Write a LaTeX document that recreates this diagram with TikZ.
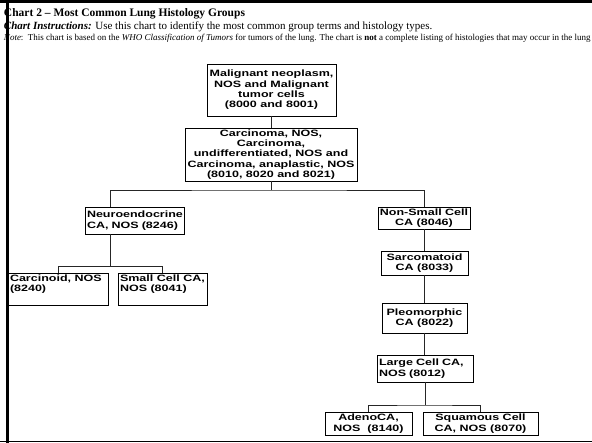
\documentclass[tikz,border=0pt]{standalone}
\usepackage{fontspec}
\setmainfont{Liberation Serif}
\newfontfamily\boxfont[FakeStretch=1.36]{Liberation Sans}
\begin{document}
\begin{tikzpicture}[x=1pt,y=-1pt,
  box/.style={draw=black, line width=0.9pt, inner sep=0pt, outer sep=0pt,
    font=\boxfont\bfseries\fontsize{9.2}{10.4}\selectfont, align=center},
  lbox/.style={box, align=left, inner xsep=2pt, inner ysep=0pt},
  conn/.style={draw=black!85, line width=0.9pt},
  hdr/.style={anchor=base west, inner sep=0pt, outer sep=0pt}]
\useasboundingbox (0,0) rectangle (592,443);
\fill[white] (0,0) rectangle (592,443);

% header
\node[hdr, font=\bfseries\fontsize{11.5}{13}\selectfont] (title) at (4,16.5)
  {Chart 2 – Most Common Lung Histology Groups};
\node[hdr, font=\fontsize{11}{13}\selectfont] (instr) at (4,30)
  {\textbf{\textit{Chart Instructions:}} Use this chart to identify the most common group terms and histology types.};
\node[hdr, font=\fontsize{9}{11}\selectfont] (note) at (4,40.5)
  {\textit{Note}:\ \ This chart is based on the \textit{WHO Classification of Tumors} for tumors of the lung. The chart is \textbf{not} a complete listing of histologies that may occur in the lung};

% boxes
\node[box, minimum width=129pt, minimum height=52pt] (B1) at (271.5,90)
  {Malignant neoplasm,\\NOS and Malignant\\tumor cells\\(8000 and 8001)};
\node[box, minimum width=172pt, minimum height=53pt] (B2) at (271,154.5)
  {Carcinoma, NOS,\\Carcinoma,\\undifferentiated, NOS and\\Carcinoma, anaplastic, NOS\\(8010, 8020 and 8021)};
\node[lbox, text width=95pt, minimum height=27pt] (B3) at (134.5,220.5)
  {Neuroendocrine\\CA, NOS (8246)};
\node[box, minimum width=100pt, minimum height=32pt] (B4) at (58,289)
  {\parbox[c][32pt][t]{96pt}{\raggedright\rule{0pt}{8.5pt}Carcinoid, NOS\\(8240)}};
\node[box, minimum width=89pt, minimum height=32pt] (B5) at (162.5,289)
  {\parbox[c][32pt][t]{85pt}{\raggedright\rule{0pt}{8.5pt}Small Cell CA,\\NOS (8041)}};
\node[box, minimum width=92pt, minimum height=22pt] (B6) at (424,218)
  {Non-Small Cell\\CA (8046)};
\node[box, minimum width=87pt, minimum height=24pt] (B7) at (424.5,263)
  {Sarcomatoid\\CA (8033)};
\node[box, minimum width=85pt, minimum height=30pt] (B8) at (424.5,318)
  {Pleomorphic\\CA (8022)};
\node[lbox, text width=92pt, minimum height=27pt] (B9) at (425,368.5)
  {Large Cell CA,\\NOS (8012)};
\node[box, minimum width=87pt, minimum height=23pt] (B10) at (368.5,423.5)
  {AdenoCA,\\NOS\ \ (8140)};
\node[box, minimum width=115pt, minimum height=23pt] (B11) at (480.5,423.5)
  {Squamous Cell\\CA, NOS (8070)};

% connectors
\coordinate (j1) at ([yshift=-9pt]B2.south);
\coordinate (j2) at ([xshift=-24.5pt,yshift=-32.5pt]B3.south);
\coordinate (j3) at ([yshift=-23pt]B9.south);
\draw[conn] (B1.south) -- (B1.south |- B2.north);
\draw[conn] (B2.south) -- (j1);
\draw[conn] ([xshift=-24.5pt]B3.north) |- (j1) -| (B6.north);
\draw[conn] ([xshift=-24.5pt]B3.south) -- (j2);
\draw[conn] (B4.north) |- (j2) -| (B5.north);
\draw[conn] (B6.south) -- (B6.south |- B7.north);
\draw[conn] (B7.south) -- (B7.south |- B8.north);
\draw[conn] (B8.south) -- (B8.south |- B9.north);
\draw[conn] (B9.south) -- (j3);
\draw[conn] (B10.north) |- (j3) -| (B11.north);

% page frame
\draw[line width=3pt] (7,0) -- (7,443);
\draw[line width=2.4pt] (0,1.5) -- (592,1.5);
\draw[line width=1.4pt] (0,441.6) -- (592,441.6);
\end{tikzpicture}
\end{document}
